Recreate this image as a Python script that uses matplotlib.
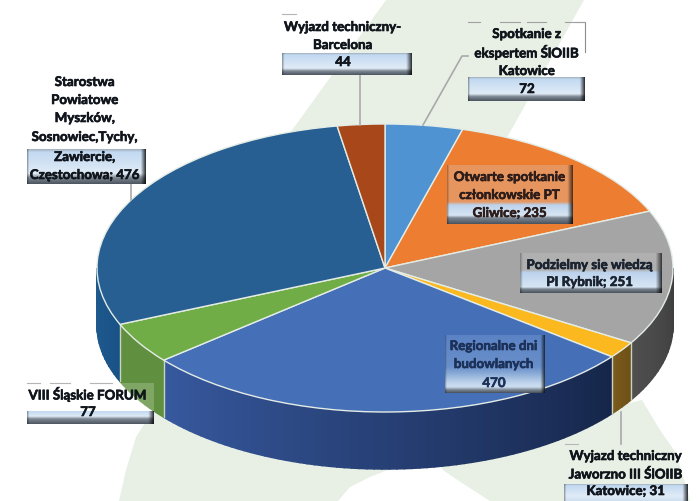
import numpy as np
import matplotlib
matplotlib.use("Agg")
import matplotlib.pyplot as plt
import matplotlib.patheffects as pe
from matplotlib.colors import to_rgb, to_rgba
from matplotlib.patches import Polygon, Rectangle

# values, clockwise from 12 o'clock
values = [72, 235, 251, 31, 470, 77, 476, 44]
top_colors = ["#5093d2", "#ed7d31", "#a5a5a5", "#fbb91f", "#4570b8", "#70ad47", "#285f92", "#a8481a"]
side_left = ["#3d76aa", "#bd6327", "#4f4f4f", "#7d5c1c", "#37599f", "#60903f", "#1f5b90", "#86390f"]
side_right = ["#3d76aa", "#bd6327", "#3f3f3f", "#6d5118", "#16264a", "#60903f", "#1a5286", "#86390f"]

labels = [
    "Spotkanie z\nekspertem ŚlOIIB\nKatowice\n72",
    "Otwarte spotkanie\nczłonkowskie PT\nGliwice; 235",
    "Podzielmy się wiedzą\nPI Rybnik; 251",
    "Wyjazd techniczny\nJaworzno III ŚlOIIB\nKatowice; 31",
    "Regionalne dni\nbudowlanych\n470",
    "VIII Śląskie FORUM\n77",
    "Starostwa\nPowiatowe\nMyszków,\nSosnowiec,Tychy,\nZawiercie,\nCzęstochowa; 476",
    "Wyjazd techniczny-\nBarcelona\n44",
]

W, H = 699, 501
CX, CY, RX, RY = 385, 268, 288, 144
DEPTH = 57 / RY

fig = plt.figure(figsize=(W / 100, H / 100), dpi=100)


def pixel_axes(zorder):
    a = fig.add_axes([0, 0, 1, 1], zorder=zorder)
    a.set_axis_off()
    a.patch.set_alpha(0)
    return a


# watermark behind the pie
bg = pixel_axes(0)
WATER = "#e8f0e5"
bg.add_patch(Polygon([(386, 0), (584, 0), (500, 150), (285, 140)], fc=WATER, ec="none"))
bg.add_patch(Polygon([(119, 501), (126, 470), (136, 437), (152, 412), (300, 440), (393, 468), (370, 477),
                      (350, 487), (338, 501)], fc=WATER, ec="none"))
bg.add_patch(Polygon([(490, 501), (462, 483), (443, 470), (430, 450), (642, 400), (660, 430), (676, 453),
                      (688, 492), (690, 501)], fc=WATER, ec="none"))
bg.set_xlim(0, W)
bg.set_ylim(H, 0)

# the pie itself, squashed by giving the axes different x and y scales
ax = fig.add_axes([0, 0, 1, 1], zorder=1)
wedges, _ = ax.pie(values, startangle=90, counterclock=False, colors=top_colors, radius=1,
                   wedgeprops={"edgecolor": "#e4ece6", "linewidth": 1.0, "zorder": 3})
ax.set_aspect("auto")
ax.set_xlim(-CX / RX, (W - CX) / RX)
ax.set_ylim((CY - H) / RY, CY / RY)
ax.set_axis_off()

# side wall of the visible lower half
for w, c0, c1 in zip(wedges, side_left, side_right):
    t0, t1 = w.theta1 % 360, w.theta2 % 360
    if t1 <= t0:
        t1 += 360
    lo, hi = max(t0, 180), min(t1, 360)
    if hi <= lo:
        continue
    steps = max(int((hi - lo) / 1.5), 1)
    edges = np.linspace(lo, hi, steps + 1)
    a0, a1 = np.array(to_rgb(c0)), np.array(to_rgb(c1))
    for i in range(steps):
        th = np.radians(np.linspace(edges[i], edges[i + 1], 4))
        xs, ys = np.cos(th), np.sin(th)
        col = a0 + (a1 - a0) * (i + 0.5) / steps
        ax.fill(np.r_[xs, xs[::-1]], np.r_[ys, ys[::-1] - DEPTH], color=col, lw=1.1, zorder=1)
    if lo > 180:
        ax.plot([np.cos(np.radians(lo))] * 2, [np.sin(np.radians(lo)), np.sin(np.radians(lo)) - DEPTH],
                color="#c9d3c4", lw=1.0, zorder=2)

# labels on top
ov = pixel_axes(2)

LIGHT = [(0.0, "#a3b0bd"), (0.08, "#c2d9f1"), (0.7, "#e0ebf6"), (0.82, "#7d8894"), (1.0, "#4d5660")]


def tinted(col, split):
    r = split
    return [(0.0, col + "d8"), (r, col + "d8"), (r + 0.06, "#bcd3ec"), (0.86, "#d8e6f4"), (0.9, "#7d8894"), (1.0, "#4d5660")]


def grad_box(x0, x1, y0, y1, stops):
    n = 64
    fr = np.linspace(0, 1, n)
    pos = [s[0] for s in stops]
    rgba = np.array([to_rgba(s[1]) for s in stops])
    col = np.stack([np.interp(fr, pos, rgba[:, k]) for k in range(4)], axis=1)
    img = np.repeat(col[:, None, :], 120, axis=1)
    # darker edges left and right
    xf = np.linspace(0, 1, 120)
    dark = np.clip((xf - 0.96) / 0.04, 0, 1) * 0.75 + np.clip((0.015 - xf) / 0.015, 0, 1) * 0.3
    img[:, :, :3] *= (1 - dark)[None, :, None]
    ov.imshow(img, extent=(x0, x1, y1, y0), aspect="auto", interpolation="bilinear", zorder=2)


grad_box(27, 146, 149, 184, LIGHT)
grad_box(282, 412, 53, 75, LIGHT)
grad_box(468, 585, 77, 101, LIGHT)
grad_box(447, 573, 165, 224, tinted("#e69a68", 0.62))
grad_box(520, 662, 253, 293, tinted("#b3b3b3", 0.42))
grad_box(445, 545, 335, 393, [(0.0, "#5f86c6e0"), (0.55, "#6f95cde0"), (0.8, "#b8cfe9"), (0.9, "#cfe0f2"), (0.95, "#7d8894"), (1.0, "#4d5660")])
grad_box(27, 154, 411, 424, [(0.0, "#c2d9f1"), (0.4, "#dfeaf6"), (0.6, "#7d8894"), (1.0, "#4d5660")])
grad_box(564, 688, 484, 501, LIGHT[:3] + [(1.0, "#cfdff0")])
ov.add_patch(Rectangle((27, 383), 127, 28, fc="white", ec="none", alpha=0.2, zorder=1))

LEADER = "#a9a9a9"
ov.plot([131, 131], [184, 200], color=LEADER, lw=1.2, zorder=1)
ov.plot([360, 360], [75, 125], color=LEADER, lw=1.2, zorder=1)
ov.plot([423, 462, 468], [125, 56, 56], color=LEADER, lw=1.2, zorder=1)
ov.plot([621, 621], [412, 444], color=LEADER, lw=1.2, zorder=1)
ov.plot([585, 585, 575], [52, 22, 22], color="#8c8c8c", lw=0.8, zorder=1)
for x0, x1 in [(468, 480), (500, 520), (527, 546), (565, 585)]:
    ov.plot([x0, x1], [22, 22], color="#a0a0a0", lw=0.8, zorder=1)
ov.plot([282, 296], [14, 14], color="#b5b5b5", lw=0.8, zorder=1)
ov.plot([565, 578], [444, 444], color="#b5b5b5", lw=0.8, zorder=1)
for x0, x1 in [(27, 40), (50, 70), (90, 112)]:
    ov.plot([x0, x1], [383, 383], color="#b5b5b5", lw=0.8, zorder=1)

# one centre x and one list of line heights per label, same order as labels
label_x = [527, 510, 590, 626, 494, 88, 85, 343]
label_y = [
    [34, 52, 71, 89],
    [177, 195, 213],
    [265, 282],
    [456, 474, 491],
    [346, 364, 383],
    [394, 412],
    [82, 100, 118, 137, 157, 175],
    [27, 45, 62],
]
label_color = ["#10151c", "#2c1c1a", "#1b2330", "#10151c", "#1c3158", "#10151c", "#10151c", "#10151c"]
for text, x, ys, tc in zip(labels, label_x, label_y, label_color):
    for line, y in zip(text.split("\n"), ys):
        ov.text(x, y, line, ha="center", va="center", family="Lato", weight="bold",
                fontsize=9.6, color=tc, zorder=5,
                path_effects=[pe.withStroke(linewidth=0.45, foreground=tc)])

ov.set_xlim(0, W)
ov.set_ylim(H, 0)

fig.savefig("out.png", dpi=100)
